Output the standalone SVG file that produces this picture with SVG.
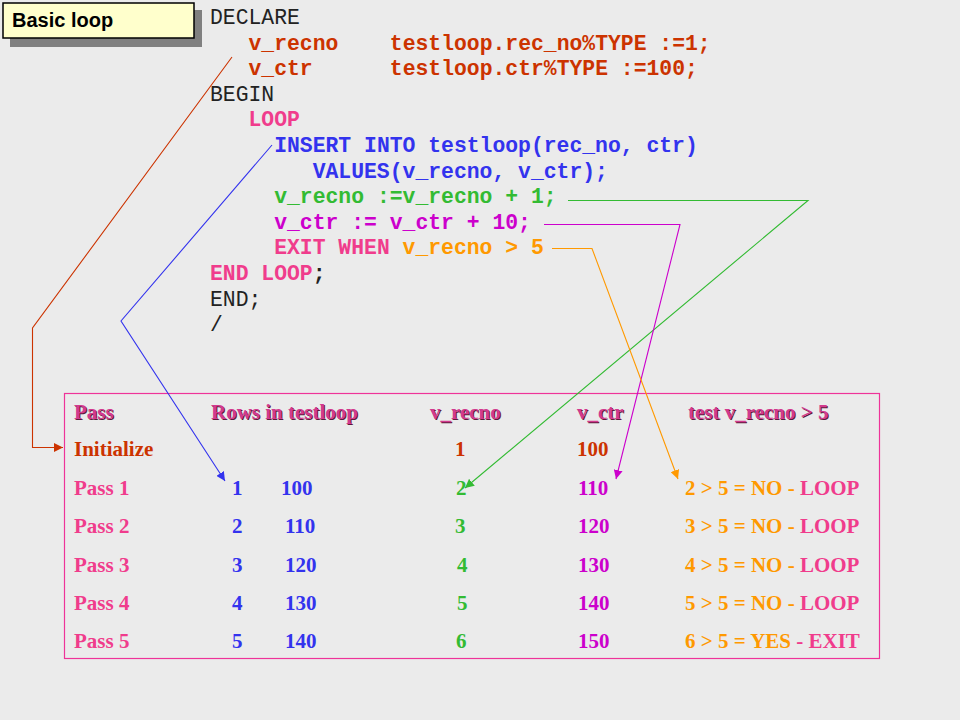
<svg xmlns="http://www.w3.org/2000/svg" width="960" height="720" viewBox="0 0 960 720">
<style>
.code{font-family:"Liberation Mono","Courier New",monospace;font-size:21.4px}
.b{font-weight:bold}
.tb{font-family:"Liberation Serif","Times New Roman",serif;font-size:21px;font-weight:bold}
.blk{fill:#222}
.red{fill:#cc3300}
.pink{fill:#f03c8c}
.blue{fill:#3333ee}
.green{fill:#33bb33}
.mag{fill:#cc00cc}
.org{fill:#ff9900}
.hdr{fill:#d23a8e}
.shd{fill:#5a1a3a}
.ln{fill:none;stroke-width:1.1}
</style>
<defs>
<marker id="aR" viewBox="0 0 10 10" refX="10" refY="5" markerWidth="9" markerHeight="9" markerUnits="userSpaceOnUse" orient="auto"><path d="M0,0L10,5L0,10z" fill="#cc3300"/></marker>
<marker id="aB" viewBox="0 0 10 10" refX="10" refY="5" markerWidth="9" markerHeight="9" markerUnits="userSpaceOnUse" orient="auto"><path d="M0,0L10,5L0,10z" fill="#3333ee"/></marker>
<marker id="aG" viewBox="0 0 10 10" refX="10" refY="5" markerWidth="9" markerHeight="9" markerUnits="userSpaceOnUse" orient="auto"><path d="M0,0L10,5L0,10z" fill="#33bb33"/></marker>
<marker id="aM" viewBox="0 0 10 10" refX="10" refY="5" markerWidth="9" markerHeight="9" markerUnits="userSpaceOnUse" orient="auto"><path d="M0,0L10,5L0,10z" fill="#cc00cc"/></marker>
<marker id="aO" viewBox="0 0 10 10" refX="10" refY="5" markerWidth="9" markerHeight="9" markerUnits="userSpaceOnUse" orient="auto"><path d="M0,0L10,5L0,10z" fill="#ff9900"/></marker>
</defs>
<rect width="960" height="720" fill="#ebebeb"/>

<g id="title">
<rect x="10" y="10" width="192" height="37" fill="#808080"/>
<rect x="3" y="3" width="191" height="35" fill="#ffffcc" stroke="#000" stroke-width="1.5"/>
<text x="12" y="27" font-family="'Liberation Sans',Arial,sans-serif" font-size="20" font-weight="bold" fill="#000">Basic loop</text>
</g>

<g id="code" class="code">
<text x="210" y="24" class="blk">DECLARE</text>
<text x="248.5" y="49.6" class="b red">v_recno</text>
<text x="389.8" y="49.6" class="b red">testloop.rec_no%TYPE :=1;</text>
<text x="248.5" y="75.2" class="b red">v_ctr</text>
<text x="389.8" y="75.2" class="b red">testloop.ctr%TYPE :=100;</text>
<text x="210" y="100.8" class="blk">BEGIN</text>
<text x="248.5" y="126.4" class="b pink">LOOP</text>
<text x="274.2" y="152" class="b blue">INSERT INTO testloop(rec_no, ctr)</text>
<text x="312.7" y="177.6" class="b blue">VALUES(v_recno, v_ctr);</text>
<text x="274.2" y="203.2" class="b green">v_recno :=v_recno + 1;</text>
<text x="274.2" y="228.8" class="b mag">v_ctr := v_ctr + 10;</text>
<text x="274.2" y="254.4" class="b pink">EXIT WHEN</text>
<text x="402.6" y="254.4" class="b org">v_recno &gt; 5</text>
<text x="210" y="280" class="b pink">END LOOP</text>
<text x="312.7" y="280" class="b blk">;</text>
<text x="210" y="305.6" class="blk">END;</text>
<text x="210" y="331.2" class="blk">/</text>
</g>

<g id="table">
<rect x="64.5" y="393.5" width="815" height="265" fill="none" stroke="#ee3399" stroke-width="1.2"/>
<g id="header" class="tb">
<text x="75" y="420" class="shd">Pass</text>
<text x="74" y="419" class="hdr">Pass</text>
<text x="212" y="420" class="shd">Rows in testloop</text>
<text x="211" y="419" class="hdr">Rows in testloop</text>
<text x="431" y="420" class="shd">v_recno</text>
<text x="430" y="419" class="hdr">v_recno</text>
<text x="578" y="420" class="shd">v_ctr</text>
<text x="577" y="419" class="hdr">v_ctr</text>
<text x="689" y="420" class="shd">test v_recno &gt; 5</text>
<text x="688" y="419" class="hdr">test v_recno &gt; 5</text>
</g>
<g id="row-init" class="tb red">
<text x="74" y="456">Initialize</text>
<text x="455" y="456">1</text>
<text x="577" y="456">100</text>
</g>
<g id="row-1" class="tb">
<text x="74" y="494.5" class="pink">Pass 1</text>
<text x="232" y="494.5" class="blue">1</text>
<text x="281" y="494.5" class="blue">100</text>
<text x="456" y="494.5" class="green">2</text>
<text x="578" y="494.5" class="mag">110</text>
<text x="685" y="494.5" class="org">2 &gt; 5 = NO - <tspan class="pink">LOOP</tspan></text>
</g>
<g id="row-2" class="tb">
<text x="74" y="533" class="pink">Pass 2</text>
<text x="232" y="533" class="blue">2</text>
<text x="285" y="533" class="blue">110</text>
<text x="455" y="533" class="green">3</text>
<text x="578" y="533" class="mag">120</text>
<text x="685" y="533" class="org">3 &gt; 5 = NO - <tspan class="pink">LOOP</tspan></text>
</g>
<g id="row-3" class="tb">
<text x="74" y="571.5" class="pink">Pass 3</text>
<text x="232" y="571.5" class="blue">3</text>
<text x="285" y="571.5" class="blue">120</text>
<text x="457" y="571.5" class="green">4</text>
<text x="578" y="571.5" class="mag">130</text>
<text x="685" y="571.5" class="org">4 &gt; 5 = NO - <tspan class="pink">LOOP</tspan></text>
</g>
<g id="row-4" class="tb">
<text x="74" y="610" class="pink">Pass 4</text>
<text x="232" y="610" class="blue">4</text>
<text x="285" y="610" class="blue">130</text>
<text x="457" y="610" class="green">5</text>
<text x="578" y="610" class="mag">140</text>
<text x="685" y="610" class="org">5 &gt; 5 = NO - <tspan class="pink">LOOP</tspan></text>
</g>
<g id="row-5" class="tb">
<text x="74" y="647.5" class="pink">Pass 5</text>
<text x="232" y="647.5" class="blue">5</text>
<text x="285" y="647.5" class="blue">140</text>
<text x="456" y="647.5" class="green">6</text>
<text x="578" y="647.5" class="mag">150</text>
<text x="685" y="647.5" class="org">6 &gt; 5 = YES <tspan class="pink">- EXIT</tspan></text>
</g>
</g>

<g id="connectors" class="ln">
<path d="M232,57 L32.5,328 L32.5,447.5 L63,447.5" stroke="#cc3300" marker-end="url(#aR)"/>
<path d="M272,145 L121,321 L225,481" stroke="#3333ee" marker-end="url(#aB)"/>
<path d="M568,200.5 L808,200.5 L465,488" stroke="#33bb33" marker-end="url(#aG)"/>
<path d="M544,224.5 L680,224.5 L616,479" stroke="#cc00cc" marker-end="url(#aM)"/>
<path d="M552,248.5 L592,248.5 L678,479" stroke="#ff9900" marker-end="url(#aO)"/>
</g>
</svg>
